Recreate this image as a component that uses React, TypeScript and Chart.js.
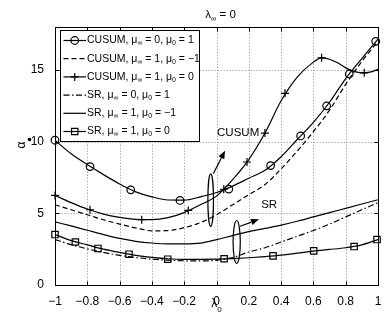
import React, { useEffect, useRef } from 'react';
import { Chart, registerables } from 'chart.js';

Chart.register(...registerables);

const FONT = '"Liberation Sans", Arial, Helvetica, sans-serif';

// ---------- data ----------
const lambda0 = [-1, -0.9, -0.8, -0.7, -0.6, -0.5, -0.4, -0.3, -0.2, -0.1, 0, 0.1, 0.2, 0.3, 0.4, 0.5, 0.6, 0.7, 0.8, 0.9, 1];

// CUSUM, mu_inf = 0, mu_0 = 1 (circles)
const cusumA = [10.1, 9.15, 8.4, 7.7, 7.05, 6.5, 6.15, 5.93, 5.92, 6.15, 6.45, 6.9, 7.45, 8.0, 8.95, 10.15, 11.35, 12.75, 14.4, 15.8, 17.15];
// CUSUM, mu_inf = 1, mu_0 = -1 (dashed)
const cusumB = [5.6, 5.25, 4.9, 4.55, 4.25, 3.98, 3.78, 3.8, 4.0, 4.35, 4.9, 5.6, 6.3, 7.0, 8.1, 9.35, 10.7, 12.2, 14.0, 15.6, 17.0];
// CUSUM, mu_inf = 1, mu_0 = 0 (plus)
const lambda0Plus = [-1, -0.9, -0.8, -0.7, -0.6, -0.5, -0.4, -0.3, -0.2, -0.1, 0, 0.1, 0.2, 0.3, 0.4, 0.5, 0.6, 0.65, 0.7, 0.75, 0.8, 0.85, 0.9, 0.95, 1];
const cusumC = [6.25, 5.75, 5.3, 4.95, 4.72, 4.58, 4.56, 4.7, 5.05, 5.6, 6.2, 7.35, 8.75, 10.6, 12.85, 14.5, 15.55, 15.85, 15.75, 15.5, 15.15, 14.9, 14.8, 14.85, 15.05];
// SR, mu_inf = 0, mu_0 = 1 (dash-dot)
const srA = [3.17, 2.82, 2.52, 2.27, 2.07, 1.92, 1.8, 1.73, 1.69, 1.68, 1.72, 1.92, 2.3, 2.6, 3.0, 3.4, 3.8, 4.25, 4.75, 5.25, 5.75];
// SR, mu_inf = 1, mu_0 = -1 (solid)
const srB = [4.4, 4.12, 3.82, 3.52, 3.25, 3.05, 2.93, 2.87, 2.87, 2.92, 3.17, 3.45, 3.72, 3.95, 4.18, 4.45, 4.75, 5.05, 5.35, 5.65, 5.95];
// SR, mu_inf = 1, mu_0 = 0 (squares)
const srC = [3.52, 3.1, 2.8, 2.5, 2.27, 2.07, 1.93, 1.83, 1.79, 1.79, 1.8, 1.84, 1.9, 1.98, 2.08, 2.22, 2.37, 2.48, 2.6, 2.8, 3.17];

// marker positions
const circleX = [-1, -0.783, -0.531, -0.226, 0.076, 0.335, 0.521, 0.682, 0.822, 0.986];
const circleY = [10.1, 8.26, 6.64, 5.9, 6.69, 8.33, 10.4, 12.5, 14.72, 17.0];
const plusX = [-1, -0.783, -0.463, -0.175, 0.045, 0.189, 0.3, 0.424, 0.651, 0.915];
const plusY = [6.25, 5.25, 4.56, 5.2, 6.68, 8.58, 10.6, 13.37, 15.85, 14.8];
const squareX = [-1, -0.874, -0.734, -0.542, -0.302, 0.047, 0.35, 0.602, 0.852, 0.994];
const squareY = [3.52, 3.0, 2.55, 2.15, 1.8, 1.83, 2.03, 2.38, 2.68, 3.17];

// axis ticks
const xTicks = [-1, -0.8, -0.6, -0.4, -0.2, 0, 0.2, 0.4, 0.6, 0.8, 1];
const yTicks = [0, 5, 10, 15];

// legend text
const legendNames = ['CUSUM', 'CUSUM', 'CUSUM', 'SR', 'SR', 'SR'];
const legendMuInf = ['0', '1', '1', '0', '1', '1'];
const legendMu0 = ['1', '\u22121', '0', '1', '\u22121', '0'];

// annotations (data coordinates)
const annotTexts = ['CUSUM', 'SR'];
const annotTextX = [0.134, 0.326];
const annotTextY = [10.6, 5.56];
const ellipseX = [-0.036, 0.125];
const ellipseY = [5.92, 3.0];
const ellipseHalfH = [1.83, 1.5];
const arrowFromX = [-0.02, 0.146];
const arrowFromY = [7.76, 4.1];
const arrowToX = [0.053, 0.263];
const arrowToY = [9.375, 4.58];

// ---------- styles ----------
const DASH_SOLID: number[] = [];
const DASH_DASHED = [5, 3];
const DASH_DOTDASH = [6, 2.5, 1.5, 2.5];
const seriesDash = [DASH_SOLID, DASH_DASHED, DASH_SOLID, DASH_DOTDASH, DASH_SOLID, DASH_SOLID];
const seriesMarker = ['circle', '', 'plus', '', '', 'square'];
const LW = 1.2;

const zip = (xs: number[], ys: number[]) => xs.map((x, i) => ({ x, y: ys[i] }));

type Part = { t: string; sub?: boolean };

function drawRich(ctx: CanvasRenderingContext2D, parts: Part[], x: number, y: number, size: number, subSize: number, subDy: number, align: 'left' | 'center' = 'left') {
  ctx.textBaseline = 'middle';
  ctx.textAlign = 'left';
  let w = 0;
  for (const p of parts) {
    ctx.font = `${p.sub ? subSize : size}px ${FONT}`;
    w += ctx.measureText(p.t).width;
  }
  let cx = align === 'center' ? x - w / 2 : x;
  for (const p of parts) {
    ctx.font = `${p.sub ? subSize : size}px ${FONT}`;
    ctx.fillText(p.t, cx, p.sub ? y + subDy : y);
    cx += ctx.measureText(p.t).width;
  }
}

function drawMarker(ctx: CanvasRenderingContext2D, kind: string, x: number, y: number) {
  ctx.save();
  ctx.lineWidth = LW;
  ctx.strokeStyle = '#000';
  ctx.setLineDash([]);
  ctx.beginPath();
  if (kind === 'circle') {
    ctx.arc(x, y, 3.8, 0, Math.PI * 2);
  } else if (kind === 'square') {
    ctx.rect(x - 3.2, y - 3.2, 6.4, 6.4);
  } else if (kind === 'plus') {
    ctx.moveTo(x - 4, y); ctx.lineTo(x + 4, y);
    ctx.moveTo(x, y - 4); ctx.lineTo(x, y + 4);
  }
  ctx.stroke();
  ctx.restore();
}

function drawGrid(chart: any) {
  const { ctx, chartArea: a, scales } = chart;
  const L = Math.round(a.left) + 0.5, R = Math.round(a.right) + 0.5;
  const T = Math.round(a.top) + 0.5, B = Math.round(a.bottom) + 0.5;
  ctx.save();
  ctx.globalCompositeOperation = 'destination-over';
  ctx.strokeStyle = '#b0b0b0';
  ctx.lineWidth = 1;
  ctx.setLineDash([1.5, 1.5]);
  for (const v of xTicks) {
    const px = Math.round(scales.x.getPixelForValue(v)) + 0.5;
    ctx.beginPath(); ctx.moveTo(px, T); ctx.lineTo(px, B); ctx.stroke();
  }
  for (const v of yTicks) {
    const py = Math.round(scales.y.getPixelForValue(v)) + 0.5;
    ctx.beginPath(); ctx.moveTo(L, py); ctx.lineTo(R, py); ctx.stroke();
  }
  ctx.restore();
}

const decorPlugin = {
  id: 'decor',
  afterDatasetsDraw(chart: any) {
    drawGrid(chart);
    const { ctx, chartArea: a, scales } = chart;
    const sx = (v: number) => scales.x.getPixelForValue(v);
    const sy = (v: number) => scales.y.getPixelForValue(v);
    const L = Math.round(a.left) + 0.5, R = Math.round(a.right) + 0.5;
    const T = Math.round(a.top) + 0.5, B = Math.round(a.bottom) + 0.5;
    ctx.save();
    ctx.setLineDash([]);
    ctx.strokeStyle = '#000';
    ctx.lineWidth = 1;
    ctx.strokeRect(L, T, R - L, B - T);
    const tl = 4;
    for (const v of xTicks) {
      const px = Math.round(sx(v)) + 0.5;
      ctx.beginPath();
      ctx.moveTo(px, B); ctx.lineTo(px, B - tl);
      ctx.moveTo(px, T); ctx.lineTo(px, T + tl);
      ctx.stroke();
    }
    for (const v of yTicks) {
      const py = Math.round(sy(v)) + 0.5;
      ctx.beginPath();
      ctx.moveTo(L, py); ctx.lineTo(L + tl, py);
      ctx.moveTo(R, py); ctx.lineTo(R - tl, py);
      ctx.stroke();
    }

    // annotations
    ctx.fillStyle = '#000';
    ctx.lineWidth = LW;
    const rx = [2.8, 3.6];
    for (let i = 0; i < ellipseX.length; i++) {
      const cx = sx(ellipseX[i]);
      const cy = sy(ellipseY[i]);
      const ry = Math.abs(sy(ellipseY[i] + ellipseHalfH[i]) - cy);
      ctx.beginPath();
      ctx.ellipse(cx, cy, rx[i], ry, 0, 0, Math.PI * 2);
      ctx.stroke();
      const x1 = sx(arrowFromX[i]), y1 = sy(arrowFromY[i]);
      const x2 = sx(arrowToX[i]), y2 = sy(arrowToY[i]);
      const ang = Math.atan2(y2 - y1, x2 - x1);
      const hl = 8, hw = 3.2;
      const bx = x2 - hl * Math.cos(ang), by = y2 - hl * Math.sin(ang);
      ctx.beginPath(); ctx.moveTo(x1, y1); ctx.lineTo(bx, by); ctx.stroke();
      ctx.beginPath();
      ctx.moveTo(x2, y2);
      ctx.lineTo(bx + hw * Math.sin(ang), by - hw * Math.cos(ang));
      ctx.lineTo(bx - hw * Math.sin(ang), by + hw * Math.cos(ang));
      ctx.closePath();
      ctx.fill();
    }
    ctx.textAlign = 'center';
    ctx.textBaseline = 'middle';
    ctx.font = `11.5px ${FONT}`;
    for (let i = 0; i < annotTexts.length; i++) {
      ctx.fillText(annotTexts[i], sx(annotTextX[i]), sy(annotTextY[i]));
    }

    // legend
    const lx = a.left + 5, ly = a.top + 3, lw = 139, lh = 111;
    ctx.fillStyle = '#fff';
    ctx.fillRect(lx, ly, lw, lh);
    ctx.strokeStyle = '#000';
    ctx.lineWidth = 1;
    ctx.strokeRect(Math.round(lx) + 0.5, Math.round(ly) + 0.5, lw, lh);
    for (let i = 0; i < legendNames.length; i++) {
      const y = ly + 10.5 + i * 18.2;
      const x0 = lx + 3.5, x1 = lx + 26;
      ctx.save();
      ctx.strokeStyle = '#000';
      ctx.lineWidth = LW;
      ctx.setLineDash(seriesDash[i]);
      ctx.beginPath(); ctx.moveTo(x0, y); ctx.lineTo(x1, y); ctx.stroke();
      ctx.restore();
      if (seriesMarker[i]) drawMarker(ctx, seriesMarker[i], (x0 + x1) / 2, y);
      ctx.fillStyle = '#000';
      drawRich(ctx, [
        { t: `${legendNames[i]}, \u03bc` }, { t: '\u221e', sub: true },
        { t: ` = ${legendMuInf[i]}, \u03bc` }, { t: '0', sub: true },
        { t: ` = ${legendMu0[i]}` },
      ], lx + 27, y, 10.5, 7, 3);
    }

    // title, axis labels
    const midX = (a.left + a.right) / 2;
    ctx.fillStyle = '#000';
    drawRich(ctx, [{ t: '\u03bb' }, { t: '\u221e', sub: true }, { t: ' = 0' }], midX + 4, 15, 11.5, 7.5, 4, 'center');
    drawRich(ctx, [{ t: '\u03bb' }, { t: '0', sub: true }], midX, 303.5, 12, 8, 6.5, 'center');
    ctx.save();
    ctx.translate(22, 145);
    ctx.rotate(-Math.PI / 2);
    ctx.font = `12px ${FONT}`;
    ctx.textAlign = 'center';
    ctx.textBaseline = 'middle';
    ctx.fillText('\u03b1', 0, 0);
    ctx.restore();
    ctx.fillStyle = '#000';
    ctx.beginPath();
    ctx.arc(29.5, 139.5, 1.8, 0, Math.PI * 2);
    ctx.fill();
    ctx.restore();
  },
};

function fmtX(v: number): string {
  const r = Math.round(v * 10) / 10;
  if (r === 0) return '0';
  const s = Math.abs(r) === 1 ? '1' : Math.abs(r).toFixed(1);
  return r < 0 ? '\u2212' + s : s;
}

export default function App() {
  const ref = useRef<HTMLCanvasElement>(null);
  useEffect(() => {
    document.body.style.margin = '0';
    const lineDs = (xs: number[], ys: number[], dash: number[]) => ({
      type: 'line' as const,
      data: zip(xs, ys),
      borderColor: '#000',
      borderWidth: LW,
      borderDash: dash,
      pointRadius: 0,
      cubicInterpolationMode: 'monotone' as const,
      fill: false,
    });
    const markerDs = (xs: number[], ys: number[], style: string, r: number) => ({
      type: 'scatter' as const,
      data: zip(xs, ys),
      showLine: false,
      pointStyle: style,
      pointRadius: r,
      pointBorderColor: '#000',
      pointBackgroundColor: 'rgba(0,0,0,0)',
      pointBorderWidth: LW,
      clip: false,
    });
    const chart = new Chart(ref.current!, {
      type: 'line',
      data: {
        datasets: [
          lineDs(lambda0, cusumA, seriesDash[0]),
          lineDs(lambda0, cusumB, seriesDash[1]),
          lineDs(lambda0Plus, cusumC, seriesDash[2]),
          lineDs(lambda0, srA, seriesDash[3]),
          lineDs(lambda0, srB, seriesDash[4]),
          lineDs(lambda0, srC, seriesDash[5]),
          markerDs(circleX, circleY, 'circle', 3.8),
          markerDs(plusX, plusY, 'cross', 4),
          markerDs(squareX, squareY, 'rect', 4.5),
        ] as any,
      },
      options: {
        animation: false,
        responsive: false,
        events: [],
        layout: { padding: { top: 27, right: 10, left: 0, bottom: 0 } },
        plugins: { legend: { display: false }, tooltip: { enabled: false }, title: { display: false } },
        scales: {
          x: {
            type: 'linear',
            min: -1,
            max: 1,
            grid: { display: false },
            border: { display: false },
            ticks: {
              stepSize: 0.2,
              includeBounds: false,
              autoSkip: false,
              maxRotation: 0,
              padding: 1,
              color: '#000',
              font: { family: FONT, size: 12 },
              callback: (v: any) => fmtX(Number(v)),
            },
            afterFit: (s: any) => { s.height = 34; },
          },
          y: {
            type: 'linear',
            min: 0,
            max: 18,
            grid: { display: false },
            border: { display: false },
            ticks: {
              stepSize: 5,
              includeBounds: false,
              padding: 3,
              color: '#000',
              font: { family: FONT, size: 12 },
              callback: (v: any) => String(v),
            },
            afterFit: (s: any) => { s.width = 55; },
          },
        },
      } as any,
      plugins: [decorPlugin],
    });
    return () => chart.destroy();
  }, []);
  return (
    <div style={{ position: 'absolute', left: 0, top: 0, width: 388, height: 319, background: '#fff' }}>
      <canvas ref={ref} width={388} height={319} style={{ display: 'block', width: 388, height: 319 }} />
    </div>
  );
}
